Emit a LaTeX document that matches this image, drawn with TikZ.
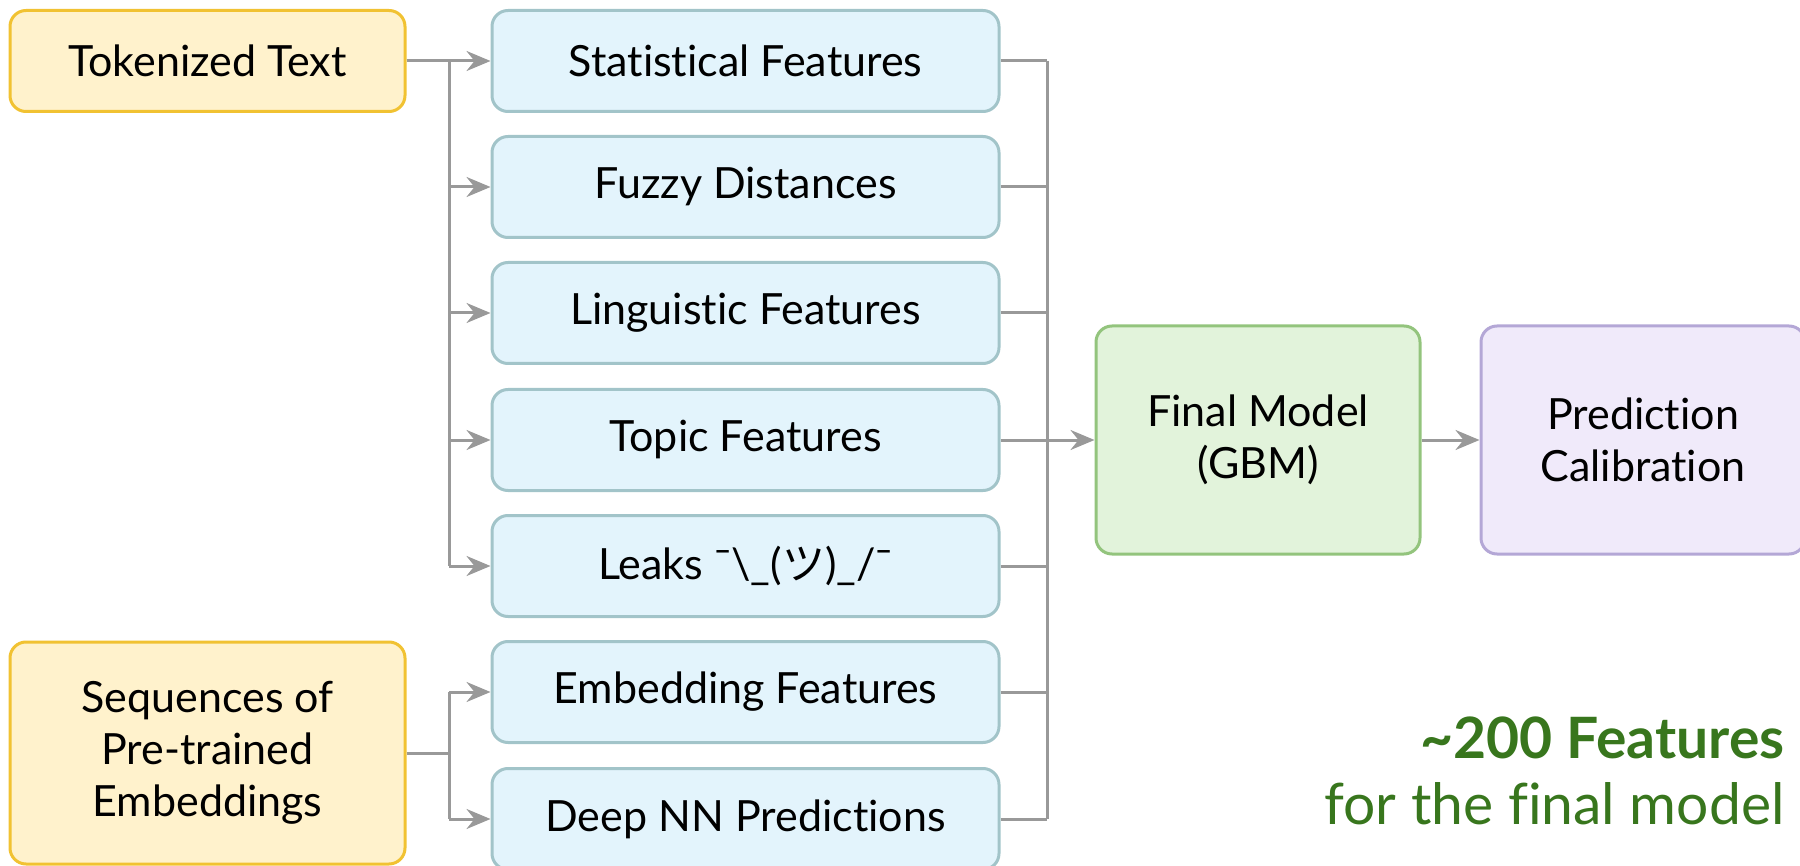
\documentclass[tikz,border=0pt]{standalone}
\usepackage{fontspec}
\setmainfont{Lato}[Ligatures=NoCommon]
\newfontfamily\cjk{Noto Sans CJK JP}
\usetikzlibrary{arrows.meta}

\definecolor{tokfill}{HTML}{FFF2CC}
\definecolor{tokline}{HTML}{F1C232}
\definecolor{featfill}{HTML}{E3F4FC}
\definecolor{featline}{HTML}{A2C4C9}
\definecolor{gbmfill}{HTML}{E2F3DB}
\definecolor{gbmline}{HTML}{93C47D}
\definecolor{calfill}{HTML}{F0EAFA}
\definecolor{calline}{HTML}{B4A7D6}
\definecolor{wire}{HTML}{999999}
\definecolor{notegreen}{HTML}{38761D}

\begin{document}
\begin{tikzpicture}[x=0.5pt,y=-0.5pt,
  box/.style={draw, line width=1.5pt, rounded corners=8pt, align=center,
    inner sep=0pt, font=\fontsize{21.5}{26}\selectfont},
  inbox/.style={box, fill=tokfill, draw=tokline, minimum width=197.5pt},
  featbox/.style={box, fill=featfill, draw=featline, minimum width=253.5pt, minimum height=50.5pt},
  modelbox/.style={box, fill=gbmfill, draw=gbmline, minimum width=162pt, minimum height=114pt},
  calbox/.style={box, fill=calfill, draw=calline, minimum width=162pt, minimum height=114pt},
  wireline/.style={draw=wire, line width=1.5pt},
  arrowline/.style={wireline, -{Stealth[length=12pt, width=10pt, inset=4pt]}},
  note/.style={text=notegreen, inner sep=0pt, font=\fontsize{28.5}{34}\selectfont}
]
\useasboundingbox (0,0) rectangle (1800,866);
\clip (0,0) rectangle (1800,866);

% inputs
\node[inbox, minimum height=50.5pt] (tok) at (207.5,61) {Tokenized Text};
\node[inbox, minimum height=111pt] (seq) at (207.5,753) {Sequences of\\Pre-trained\\Embeddings};

% feature groups
\node[featbox] (f1) at (745.5,61)  {Statistical Features};
\node[featbox] (f2) at (745.5,187) {Fuzzy Distances};
\node[featbox] (f3) at (745.5,313) {Linguistic Features};
\node[featbox] (f4) at (745.5,440) {Topic Features};
\node[featbox] (f5) at (745.5,566) {Leaks ¯\textbackslash\_({\cjk ツ})\_/¯};
\node[featbox] (f6) at (745.5,692) {Embedding Features};
\node[featbox] (f7) at (745.5,819) {Deep NN Predictions};

% model and calibration
\node[modelbox] (gbm) at (1258,440) {Final Model\\(GBM)};
\node[calbox] (cal) at (1643,440) {Prediction\\Calibration};

% buses
\coordinate (b1) at (449,61);
\coordinate (b2) at (449,753);
\coordinate (b3) at (1047,61);

\draw[wireline] (tok.east) -- (b1) -- (b1 |- f5.west);
\foreach \f in {f1,f2,f3,f4,f5}
  \draw[arrowline] (b1 |- \f.west) -- (\f.west);

\draw[wireline] (seq.east) -- (b2);
\draw[wireline] (b2 |- f6.west) -- (b2 |- f7.west);
\foreach \f in {f6,f7}
  \draw[arrowline] (b2 |- \f.west) -- (\f.west);

\foreach \f in {f1,f2,f3,f5,f6,f7}
  \draw[wireline] (\f.east) -- (\f.east -| b3);
\draw[wireline] (b3) -- (b3 |- f7.east);
\draw[arrowline] (f4.east) -- (gbm.west);
\draw[arrowline] (gbm.east) -- (cal.west);

% summary note
\node[note, anchor=base east, font=\fontsize{28.5}{34}\selectfont\bfseries] (n1) at (1785,758) {\textasciitilde200 Features};
\node[note, anchor=base east] (n2) at (1785,824) {for the final model};
\end{tikzpicture}
\end{document}
